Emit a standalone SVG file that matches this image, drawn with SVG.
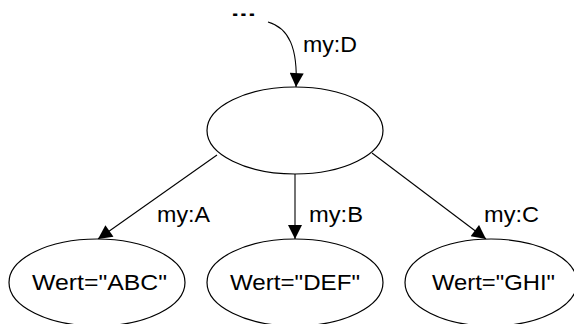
<svg xmlns="http://www.w3.org/2000/svg" width="574" height="324" viewBox="0 0 574 324">
<style>
.node{fill:#fff;stroke:#000;stroke-width:1.2}
.edge{fill:none;stroke:#000;stroke-width:1.1}
text{font-family:"Liberation Sans",Arial,sans-serif;font-size:22px;fill:#000}
.dots{font-weight:bold;font-size:17px}
</style>
<defs>
<marker id="arr" viewBox="0 0 10 10" refX="10" refY="5" markerUnits="userSpaceOnUse" markerWidth="15" markerHeight="14" orient="auto">
<path d="M0,0 L10,5 L0,10 z" fill="#000"/>
</marker>
</defs>
<rect width="574" height="324" fill="#fff"/>
<g id="connectors">
<path class="edge" d="M268,22 C289,28 298,48 296,87" marker-end="url(#arr)"/>
<line class="edge" x1="217" y1="155" x2="98" y2="239" marker-end="url(#arr)"/>
<line class="edge" x1="295" y1="174" x2="295" y2="239" marker-end="url(#arr)"/>
<line class="edge" x1="372" y1="153" x2="486" y2="239" marker-end="url(#arr)"/>
<text x="303" y="52" textLength="54" lengthAdjust="spacingAndGlyphs">my:D</text>
<text x="157" y="222" textLength="53" lengthAdjust="spacingAndGlyphs">my:A</text>
<text x="309" y="222" textLength="54" lengthAdjust="spacingAndGlyphs">my:B</text>
<text x="484" y="222" textLength="55" lengthAdjust="spacingAndGlyphs">my:C</text>
</g>
<g id="start">
<text class="dots" x="231" y="16" textLength="25" lengthAdjust="spacingAndGlyphs">...</text>
</g>
<g id="root">
<ellipse class="node" cx="295" cy="130.5" rx="88" ry="43.5"/>
</g>
<g id="nodeA">
<ellipse class="node" cx="97" cy="282.5" rx="88" ry="43.5"/>
<text x="32" y="290" textLength="135" lengthAdjust="spacingAndGlyphs">Wert="ABC"</text>
</g>
<g id="nodeB">
<ellipse class="node" cx="295" cy="282.5" rx="88" ry="43.5"/>
<text x="230" y="290" textLength="130" lengthAdjust="spacingAndGlyphs">Wert="DEF"</text>
</g>
<g id="nodeC">
<ellipse class="node" cx="491" cy="282.5" rx="86" ry="43.5"/>
<text x="432" y="290" textLength="123" lengthAdjust="spacingAndGlyphs">Wert="GHI"</text>
</g>
</svg>
